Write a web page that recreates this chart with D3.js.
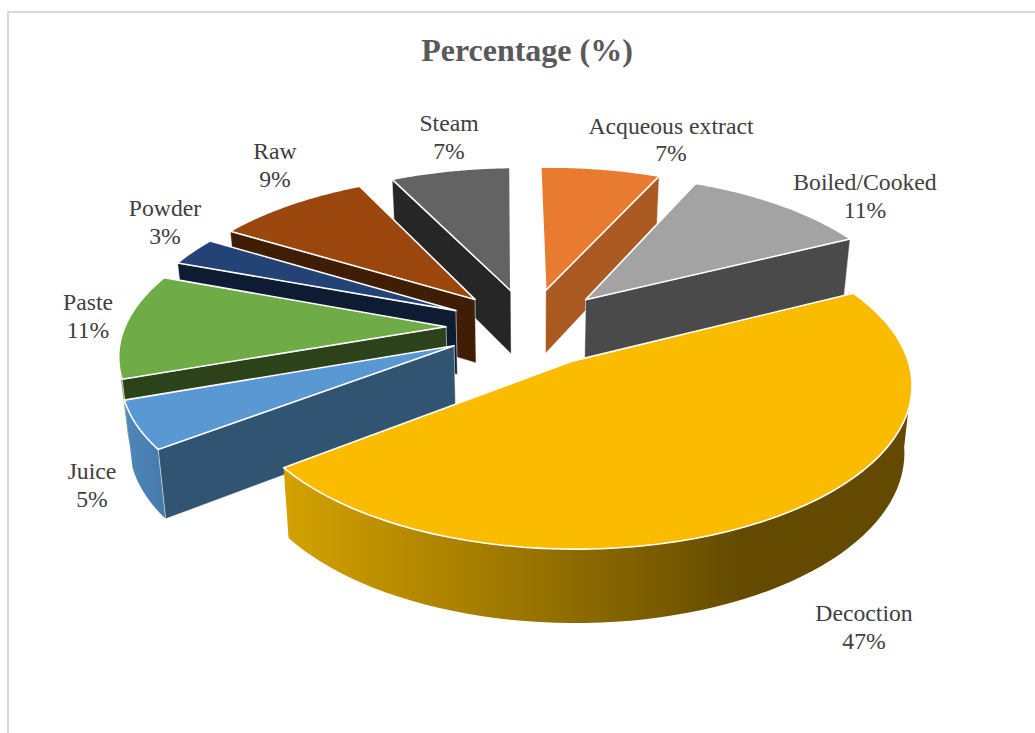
<!DOCTYPE html>
<html><head><meta charset="utf-8">
<script src="https://cdn.jsdelivr.net/npm/d3@7/dist/d3.min.js"></script>
<style>html,body{margin:0;padding:0;background:#fff}svg{display:block}text{font-family:"Liberation Serif","Times New Roman",serif}</style>
</head><body><div id="chart"></div>
<script>
const categories=["Acqueous extract","Boiled/Cooked","Decoction","Juice","Paste","Powder","Raw","Steam"];
const percentages=[7,11,47,5,11,3,9,7];
const topColors=["#E97B31","#A3A3A3","#FBBC00","#5A98D3","#6FAB47","#234276","#9B460D","#636363"];
const cutColors=["#AB5A22","#4A4A4A","#000000","#315472","#2C421A","#0D1B33","#401D05","#262626"];
const drawOrder=[0,1,7,6,5,4,3,2];
// label centre x and the two text baselines, in page pixels
const labelX=[671,865,864,92,88,165,275,449];
const labelY=[[134,161],[190,218],[621,649],[479,507],[310,338],[216,244],[159,187],[131,159]];

const W=1035,H=733;
const cam={cx:529,cy:327,R:323,k:.466,D:2258,E:83,depth:66,conv:.02,tilt:.012,skew:.009};
const wallFrom=98,wallTo=256;

const svg=d3.select("#chart").append("svg").attr("width",W).attr("height",H);
const defs=svg.append("defs");
function grad(id,x1,x2,stops){
  const g=defs.append("linearGradient").attr("id",id).attr("gradientUnits","userSpaceOnUse")
    .attr("x1",x1).attr("x2",x2).attr("y1",0).attr("y2",0);
  stops.forEach(s=>g.append("stop").attr("offset",s[0]).attr("stop-color",s[1]));
}
grad("wall2",287,905,[[0,"#D3A100"],[.46,"#8F6C00"],[.74,"#634A00"],[1,"#634A00"]]);
grad("wall3",122,170,[[0,"#5088BD"],[1,"#4478A8"]]);

// frame
svg.append("path").attr("d",`M8 ${H}V12H${W}`).attr("fill","none").attr("stroke","#D9D9D9").attr("stroke-width",2);

const rad=d=>d*Math.PI/180, deg=r=>r*180/Math.PI;
const project=(X,Y,z)=>{
  const f=cam.D/(cam.D-Y)*(1-z*cam.conv);
  const dx=X*f;
  return [cam.cx+dx+cam.skew*Y, cam.cy+(cam.k*Y+cam.depth*z)*f-cam.tilt*dx];
};
const pie=d3.pie().sort(null).startAngle(0).endAngle(2*Math.PI)(percentages);
const line=d3.line();
function slicePoint(p,a,r,z){
  const mid=(p.startAngle+p.endAngle)/2;
  return project(cam.E*Math.sin(mid)+r*Math.sin(a), -cam.E*Math.cos(mid)-r*Math.cos(a), z);
}
function arcPts(p,a0,a1,z){
  return d3.range(0,61).map(i=>slicePoint(p,a0+(a1-a0)*i/60,cam.R,z));
}
const g=svg.append("g");
drawOrder.forEach(i=>{
  const p=pie[i], s=p.startAngle, e=p.endAngle;
  const a0=Math.max(s,rad(wallFrom)), a1=Math.min(e,rad(wallTo));
  if(a1>a0){
    const pts=arcPts(p,a0,a1,0).concat(arcPts(p,a0,a1,1).reverse());
    g.append("path").attr("d",line(pts)+"Z").attr("fill",i===2?"url(#wall2)":i===3?"url(#wall3)":topColors[i]);
  }
  const cut=deg(e)<=180?e:deg(s)>=180?s:null;
  if(cut!==null){
    const pts=[slicePoint(p,cut,0,0),slicePoint(p,cut,cam.R,0),slicePoint(p,cut,cam.R,1),slicePoint(p,cut,0,1)];
    g.append("path").attr("d",line(pts)+"Z").attr("fill",cutColors[i]).attr("stroke","#fff").attr("stroke-opacity",.55).attr("stroke-width",1);
  }
  const top=[slicePoint(p,s,0,0)].concat(arcPts(p,s,e,0));
  g.append("path").attr("d",line(top)+"Z").attr("fill",topColors[i]).attr("stroke","#fff").attr("stroke-width",1.6).attr("stroke-linejoin","round");
});

svg.append("text").attr("x",527).attr("y",61).attr("text-anchor","middle").attr("font-size",32).attr("font-weight","bold").attr("fill","#595959").text("Percentage (%)");
categories.forEach((c,i)=>{
  const t=svg.append("text").attr("text-anchor","middle").attr("font-size",23.7).attr("fill","#404040");
  t.append("tspan").attr("x",labelX[i]).attr("y",labelY[i][0]).text(c);
  t.append("tspan").attr("x",labelX[i]).attr("y",labelY[i][1]).text(percentages[i]+"%");
});
</script></body></html>
